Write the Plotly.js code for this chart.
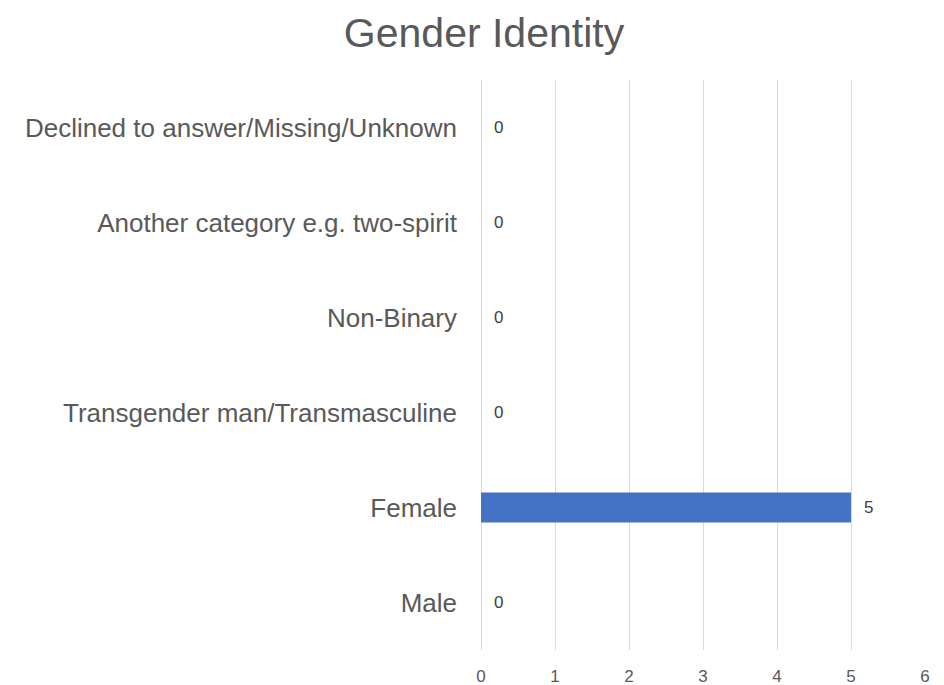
<!DOCTYPE html>
<html>
<head>
<meta charset="utf-8">
<script src="https://cdn.plot.ly/plotly-3.0.1.min.js"></script>
<style>html,body{margin:0;padding:0;background:#fff;}#chart{width:944px;height:685px;}</style>
</head>
<body>
<div id="chart"></div>
<script>
const categories = ["Male", "Female", "Transgender man/Transmasculine", "Non-Binary", "Another category e.g. two-spirit", "Declined to answer/Missing/Unknown"];
const values = [0, 5, 0, 0, 0, 0];
const xTicks = [0, 1, 2, 3, 4, 5, 6];

const FONT = '"Liberation Sans", Arial, sans-serif';

const trace = {
  type: 'bar',
  orientation: 'h',
  x: values,
  y: categories,
  marker: {color: '#4472C4'},
  hoverinfo: 'none'
};

const annotations = categories.map((c, i) => ({
  x: values[i], y: c, xref: 'x', yref: 'y',
  text: String(values[i]), showarrow: false,
  xanchor: 'left', xshift: 11,
  font: {family: FONT, size: 17, color: '#404040'}
}));

const layout = {
  width: 944, height: 685,
  margin: {l: 481, r: 19, t: 80, b: 35},
  paper_bgcolor: '#fff', plot_bgcolor: '#fff',
  bargap: 0.685,
  showlegend: false,
  title: {text: 'Gender Identity', x: 484 / 944, xanchor: 'center', y: 1 - 33 / 685, yanchor: 'middle',
          xref: 'paper', yref: 'container',
          font: {family: FONT, size: 41, color: '#595959'}},
  xaxis: {
    range: [0, 6], tickvals: xTicks, ticktext: xTicks.map(String),
    showgrid: true, gridcolor: '#d9d9d9', gridwidth: 1,
    zeroline: true, zerolinecolor: '#d9d9d9', zerolinewidth: 1,
    showline: false, ticks: '', fixedrange: true,
    tickfont: {family: FONT, size: 17, color: '#595959'},
    ticklabelstandoff: 14
  },
  yaxis: {
    categoryorder: 'array', categoryarray: categories,
    showgrid: false, zeroline: false, showline: false, ticks: '',
    tickfont: {family: FONT, size: 26, color: '#595959'},
    ticklabelstandoff: 23
  },
  annotations: annotations
};
layout.title.xref = 'container';

Plotly.newPlot('chart', [trace], layout, {displayModeBar: false, staticPlot: true});
</script>
</body>
</html>
